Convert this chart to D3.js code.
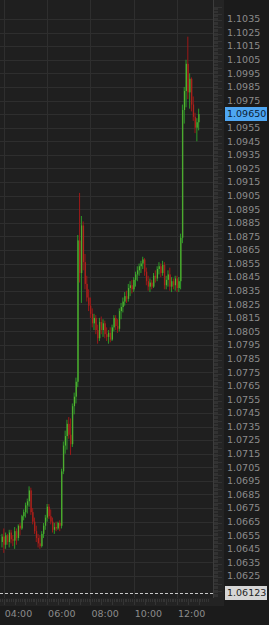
<!DOCTYPE html>
<html>
<head>
<meta charset="utf-8">
<script src="https://cdn.jsdelivr.net/npm/d3@7"></script>
<style>
html, body { margin: 0; padding: 0; background: #1b1b1b; overflow: hidden; }
svg { display: block; }
text { font-family: "DejaVu Sans", sans-serif; font-size: 9.5px; fill: #8c8c8c; }
</style>
</head>
<body>
<svg id="chart" width="269" height="625"></svg>
<script>
'use strict';

// 5 minute bars, first one opens at 03:55
var firstBar = '03:55';
var barMinutes = 5;

var open = [
	1.0650, 1.0654, 1.0648, 1.0655, 1.0650, 1.0657, 1.0652, 1.0651, 1.0658, 1.0653,
	1.0662, 1.0660, 1.0669, 1.0672, 1.0677, 1.0680, 1.0688, 1.0672, 1.0665, 1.0658,
	1.0653, 1.0649, 1.0647, 1.0656, 1.0662, 1.0668, 1.0676, 1.0669, 1.0665, 1.0659,
	1.0661, 1.0660, 1.0664, 1.0662, 1.0702, 1.0721, 1.0728, 1.0737, 1.0729, 1.0722,
	1.0750, 1.0757, 1.0768, 1.0872, 1.0848, 1.0883, 1.0856, 1.0840, 1.0830, 1.0824,
	1.0818, 1.0811, 1.0815, 1.0806, 1.0800, 1.0812, 1.0806, 1.0811, 1.0803, 1.0801,
	1.0804, 1.0799, 1.0808, 1.0815, 1.0809, 1.0807, 1.0820, 1.0823, 1.0827, 1.0831,
	1.0829, 1.0837, 1.0839, 1.0836, 1.0843, 1.0847, 1.0850, 1.0853, 1.0855, 1.0858,
	1.0849, 1.0842, 1.0838, 1.0841, 1.0838, 1.0846, 1.0844, 1.0851, 1.0853, 1.0848,
	1.0854, 1.0839, 1.0843, 1.0847, 1.0838, 1.0842, 1.0839, 1.0844, 1.0837, 1.0842,
	1.0874, 1.0968, 1.0982, 1.1002, 1.0981, 1.0991, 1.0972, 1.0963, 1.0955, 1.0959
];
var high = [
	1.0656, 1.0660, 1.0657, 1.0656, 1.0659, 1.0659, 1.0655, 1.0661, 1.0660, 1.0663,
	1.0664, 1.0670, 1.0674, 1.0679, 1.0682, 1.0691, 1.0690, 1.0675, 1.0668, 1.0662,
	1.0656, 1.0655, 1.0658, 1.0664, 1.0670, 1.0678, 1.0678, 1.0674, 1.0668, 1.0664,
	1.0665, 1.0665, 1.0666, 1.0704, 1.0724, 1.0732, 1.0740, 1.0742, 1.0741, 1.0752,
	1.0760, 1.0771, 1.0876, 1.0907, 1.0890, 1.0886, 1.0862, 1.0846, 1.0836, 1.0830,
	1.0822, 1.0818, 1.0817, 1.0810, 1.0815, 1.0816, 1.0814, 1.0813, 1.0808, 1.0806,
	1.0808, 1.0810, 1.0817, 1.0817, 1.0814, 1.0822, 1.0826, 1.0830, 1.0834, 1.0835,
	1.0840, 1.0842, 1.0843, 1.0845, 1.0849, 1.0853, 1.0855, 1.0857, 1.0860, 1.0859,
	1.0852, 1.0846, 1.0844, 1.0843, 1.0848, 1.0850, 1.0853, 1.0856, 1.0855, 1.0857,
	1.0856, 1.0846, 1.0850, 1.0852, 1.0845, 1.0844, 1.0846, 1.0846, 1.0845, 1.0877,
	1.0972, 1.0985, 1.1005, 1.1022, 1.0995, 1.0992, 1.0978, 1.0966, 1.0962, 1.0969
];
var low = [
	1.0646, 1.0642, 1.0645, 1.0648, 1.0646, 1.0649, 1.0647, 1.0645, 1.0648, 1.0651,
	1.0655, 1.0659, 1.0666, 1.0668, 1.0671, 1.0676, 1.0670, 1.0663, 1.0656, 1.0650,
	1.0646, 1.0645, 1.0646, 1.0653, 1.0659, 1.0665, 1.0667, 1.0663, 1.0657, 1.0656,
	1.0658, 1.0659, 1.0658, 1.0660, 1.0700, 1.0715, 1.0718, 1.0726, 1.0714, 1.0720,
	1.0744, 1.0752, 1.0764, 1.0841, 1.0826, 1.0850, 1.0836, 1.0827, 1.0820, 1.0815,
	1.0808, 1.0806, 1.0803, 1.0796, 1.0798, 1.0803, 1.0801, 1.0800, 1.0798, 1.0796,
	1.0797, 1.0798, 1.0805, 1.0806, 1.0804, 1.0805, 1.0814, 1.0819, 1.0824, 1.0826,
	1.0827, 1.0831, 1.0833, 1.0834, 1.0838, 1.0842, 1.0846, 1.0848, 1.0851, 1.0846,
	1.0839, 1.0835, 1.0834, 1.0836, 1.0837, 1.0841, 1.0842, 1.0847, 1.0845, 1.0846,
	1.0836, 1.0836, 1.0838, 1.0835, 1.0834, 1.0836, 1.0835, 1.0834, 1.0834, 1.0836,
	1.0870, 1.0958, 1.0970, 1.0976, 1.0969, 1.0967, 1.0960, 1.0951, 1.0945, 1.0953
];
var close = [
	1.0654, 1.0648, 1.0655, 1.0650, 1.0657, 1.0652, 1.0651, 1.0658, 1.0653, 1.0662,
	1.0660, 1.0669, 1.0672, 1.0677, 1.0680, 1.0688, 1.0672, 1.0665, 1.0658, 1.0653,
	1.0649, 1.0647, 1.0656, 1.0662, 1.0668, 1.0676, 1.0669, 1.0665, 1.0659, 1.0661,
	1.0660, 1.0664, 1.0662, 1.0702, 1.0721, 1.0728, 1.0737, 1.0729, 1.0722, 1.0750,
	1.0757, 1.0768, 1.0872, 1.0848, 1.0883, 1.0856, 1.0840, 1.0830, 1.0824, 1.0818,
	1.0811, 1.0815, 1.0806, 1.0800, 1.0812, 1.0806, 1.0811, 1.0803, 1.0801, 1.0804,
	1.0799, 1.0808, 1.0815, 1.0809, 1.0807, 1.0820, 1.0823, 1.0827, 1.0831, 1.0829,
	1.0837, 1.0839, 1.0836, 1.0843, 1.0847, 1.0850, 1.0853, 1.0855, 1.0858, 1.0849,
	1.0842, 1.0838, 1.0841, 1.0838, 1.0846, 1.0844, 1.0851, 1.0853, 1.0848, 1.0854,
	1.0839, 1.0843, 1.0847, 1.0838, 1.0842, 1.0839, 1.0844, 1.0837, 1.0842, 1.0874,
	1.0968, 1.0982, 1.1002, 1.0981, 1.0991, 1.0972, 1.0963, 1.0955, 1.0959, 1.0965
];

var timeTicks = ['04:00', '06:00', '08:00', '10:00', '12:00'];
var priceTickFirst = 1.0625;
var priceTickLast = 1.1035;
var priceTickStep = 0.001;
var lastPrice = 1.09650;
var lowMark = 1.06123;

var parseTime = d3.timeParse('%H:%M');
var W = 269, H = 625;
var plotRight = 213, rulerRight = 224, plotBottom = 598;

var x = d3.scaleTime()
	.domain([parseTime('04:00'), parseTime('12:00')])
	.range([3.8, 177]);
var y = d3.scaleLinear()
	.domain([priceTickFirst, priceTickLast])
	.range([576, 19]);

var t0 = parseTime(firstBar);
var bars = close.map(function(c, i) {
	return {
		t: d3.timeMinute.offset(t0, i * barMinutes),
		o: open[i], h: high[i], l: low[i], c: c
	};
});

var priceTicks = d3.range(0, Math.round((priceTickLast - priceTickFirst) / priceTickStep) + 1)
	.map(function(k) { return +(priceTickFirst + k * priceTickStep).toFixed(4); });

var svg = d3.select('#chart');

svg.append('rect')
	.attr('width', W).attr('height', H)
	.attr('fill', '#1b1b1b');
svg.append('rect')
	.attr('width', plotRight).attr('height', plotBottom)
	.attr('fill', '#1f1f1f');

// grid
var grid = svg.append('g')
	.attr('stroke', '#2e2e2e')
	.attr('stroke-width', 1);
grid.selectAll('line.h')
	.data(priceTicks)
	.enter().append('line')
	.attr('x1', 0).attr('x2', plotRight)
	.attr('y1', function(d) { return Math.round(y(d)) + 0.5; })
	.attr('y2', function(d) { return Math.round(y(d)) + 0.5; });
grid.selectAll('line.v')
	.data(timeTicks.map(parseTime))
	.enter().append('line')
	.attr('y1', 0).attr('y2', plotBottom)
	.attr('x1', function(d) { return Math.round(x(d)) + 0.5; })
	.attr('x2', function(d) { return Math.round(x(d)) + 0.5; });

// price ruler
svg.append('rect')
	.attr('x', plotRight).attr('y', 0)
	.attr('width', rulerRight - plotRight).attr('height', plotBottom + 8)
	.attr('fill', '#242424');
svg.append('line')
	.attr('x1', plotRight + 0.5).attr('x2', plotRight + 0.5)
	.attr('y1', 0).attr('y2', plotBottom + 8)
	.attr('stroke', '#3c3c3c');
var minor = d3.range(0, 440).map(function(k) { return 1.0605 + k * 0.0001; })
	.filter(function(p) { return y(p) > 0 && y(p) < plotBottom; });
svg.append('g')
	.attr('stroke', '#323232')
	.selectAll('line')
	.data(minor)
	.enter().append('line')
	.attr('x1', plotRight + 1)
	.attr('x2', function(d, i) { return plotRight + (i % 5 === 0 ? 9 : 5); })
	.attr('y1', function(d) { return Math.round(y(d)) + 0.5; })
	.attr('y2', function(d) { return Math.round(y(d)) + 0.5; });

// time ruler
svg.append('rect')
	.attr('x', 0).attr('y', plotBottom)
	.attr('width', rulerRight).attr('height', 8)
	.attr('fill', '#232323');
var minorT = d3.timeMinute.every(5).range(parseTime('03:45'), parseTime('13:30'))
	.filter(function(d) { return x(d) >= 0 && x(d) < rulerRight; });
svg.append('g')
	.attr('stroke', '#343434')
	.selectAll('line')
	.data(minorT)
	.enter().append('line')
	.attr('x1', function(d) { return Math.round(x(d)) + 0.5; })
	.attr('x2', function(d) { return Math.round(x(d)) + 0.5; })
	.attr('y1', plotBottom + 1)
	.attr('y2', function(d) { return plotBottom + (d.getMinutes() % 30 === 0 ? 7 : 4); });

// candles
var isUp = function(d) { return d.c >= d.o; };
var candle = svg.append('g').selectAll('g')
	.data(bars)
	.enter().append('g')
	.attr('transform', function(d) { return 'translate(' + x(d.t) + ',0)'; });
candle.append('line')
	.attr('y1', function(d) { return y(d.h); })
	.attr('y2', function(d) { return y(d.l); })
	.attr('stroke', function(d) { return isUp(d) ? '#2d9a28' : '#9c1818'; })
	.attr('stroke-width', 1);
candle.append('rect')
	.attr('x', -0.2)
	.attr('width', 1.1)
	.attr('y', function(d) { return y(Math.max(d.o, d.c)); })
	.attr('height', function(d) { return Math.max(1, Math.abs(y(d.o) - y(d.c))); })
	.attr('fill', function(d) { return isUp(d) ? '#55b332' : '#b0241c'; });

// low marker line
svg.append('line')
	.attr('x1', 0).attr('x2', plotRight)
	.attr('y1', Math.round(y(lowMark)) + 0.5)
	.attr('y2', Math.round(y(lowMark)) + 0.5)
	.attr('stroke', '#c8c8c8')
	.attr('stroke-dasharray', '3,2');

// price labels (the one under the last price tag is hidden)
svg.append('g').selectAll('text')
	.data(priceTicks.filter(function(p) { return Math.abs(y(p) - y(lastPrice)) > 8; }))
	.enter().append('text')
	.attr('x', 227)
	.attr('y', function(d) { return y(d); })
	.attr('dy', '0.35em')
	.text(function(d) { return d.toFixed(4); });

var tags = [
	{ p: lastPrice, fill: '#4ea6f2', color: '#0b2035' },
	{ p: lowMark, fill: '#d6d6d6', color: '#1e1e1e' }
];
var tag = svg.append('g').selectAll('g')
	.data(tags)
	.enter().append('g')
	.attr('transform', function(d) { return 'translate(225,' + Math.round(y(d.p)) + ')'; });
tag.append('rect')
	.attr('x', 0).attr('y', -7)
	.attr('width', 42).attr('height', 14)
	.attr('fill', function(d) { return d.fill; });
tag.append('text')
	.attr('x', 2).attr('y', 0).attr('dy', '0.35em')
	.style('fill', function(d) { return d.color; })
	.text(function(d) { return d.p.toFixed(5); });

// time labels
svg.append('g').selectAll('text')
	.data(timeTicks)
	.enter().append('text')
	.attr('x', function(d) { return x(parseTime(d)) + 1; })
	.attr('y', 614)
	.attr('dy', '0.35em')
	.text(function(d) { return d; });
</script>
</body>
</html>
